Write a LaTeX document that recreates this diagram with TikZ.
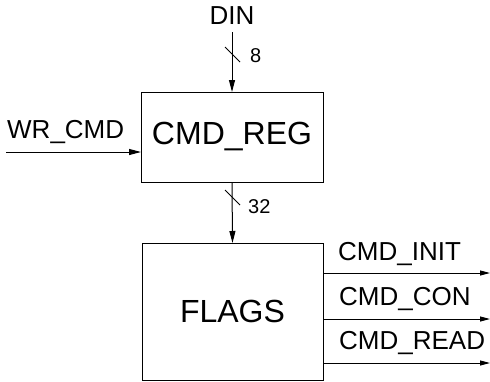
\documentclass[tikz,border=0pt]{standalone}
\usepackage{fontspec}
\setmainfont{Liberation Sans}
\usetikzlibrary{arrows.meta}
\begin{document}
\begin{tikzpicture}[x=1pt,y=-1pt,
  blk/.style={draw,line width=1pt,inner sep=0pt,outer sep=0pt,font=\fontsize{32}{36}\selectfont},
  wire/.style={line width=1pt,-{Triangle[length=12pt,width=6pt]}},
  owire/.style={line width=1pt,-{Triangle[length=10pt,width=5pt]}},
  lbl/.style={inner sep=0pt,anchor=base west,font=\fontsize{26}{29}\selectfont},
  bus/.style={inner sep=0pt,anchor=base west,font=\fontsize{20}{24}\selectfont},
  slash/.style={line width=1pt}]
\useasboundingbox (0,0) rectangle (490,381);
\node[blk,minimum width=182pt,minimum height=90pt] (reg) at (232,137) {CMD\_REG};
\node[blk,minimum width=181pt,minimum height=137pt] (flags) at (232.5,311.5) {FLAGS};
% DIN
\node[inner sep=0pt,anchor=base,font=\fontsize{26}{29}\selectfont] (din) at (232,24) {DIN};
\coordinate (dinS) at (232,32);
\draw[wire] (dinS) -- (dinS |- reg.north);
\draw[slash] (225,47) -- (240,62);
\node[bus] (b8) at (250,62) {8};
% WR_CMD
\node[lbl] (wr) at (7,138) {WR\_CMD};
\coordinate (wrS) at (6,152);
\draw[wire] (wrS) -- (wrS -| reg.west);
% bus 32
\draw[wire] (reg.south) -- (flags.north);
\draw[slash] (225,190) -- (240,205);
\node[bus] (b32) at (248,213) {32};
% outputs
\coordinate (o1) at (490,273);
\coordinate (o2) at (490,319);
\coordinate (o3) at (490,363);
\draw[owire] (o1 -| flags.east) -- (o1);
\draw[owire] (o2 -| flags.east) -- (o2);
\draw[owire] (o3 -| flags.east) -- (o3);
\node[lbl] (oi) at (338,260) {CMD\_INIT};
\node[lbl] (oc) at (339,305) {CMD\_CON};
\node[lbl] (ord) at (339,349) {CMD\_READ};
\end{tikzpicture}
\end{document}
